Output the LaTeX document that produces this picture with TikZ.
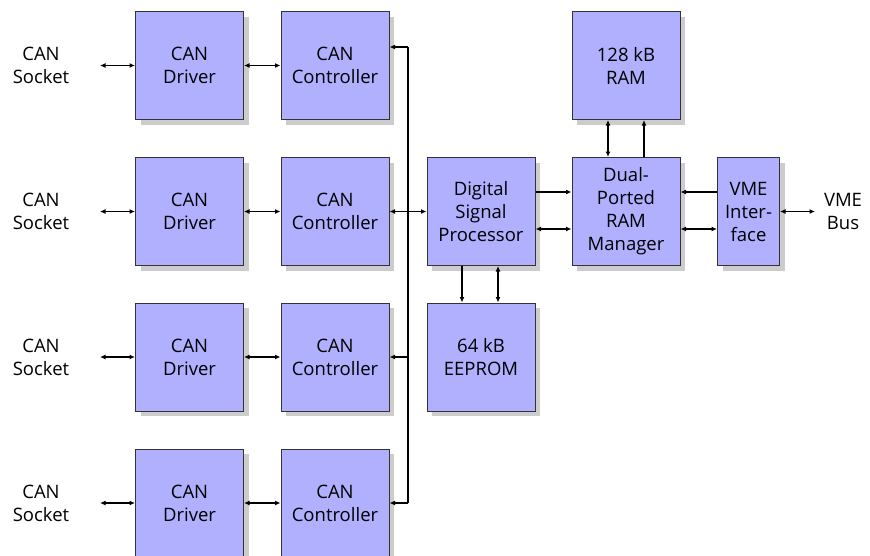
\documentclass[tikz,border=0pt]{standalone}
\usepackage{fontspec}
\setmainfont{Open Sans}
\usetikzlibrary{arrows.meta,shadows}
\definecolor{blockfill}{HTML}{B0B0FF}
\definecolor{blockshadow}{HTML}{CCCCCC}
\definecolor{blockline}{HTML}{333333}
\begin{document}
\begin{tikzpicture}[x=1pt,y=-1pt,
  font=\fontsize{18.5}{23}\selectfont,
  block/.style={draw=blockline,line width=1pt,fill=blockfill,
    minimum width=108pt,minimum height=108pt,inner sep=0pt,align=center,
    drop shadow={shadow xshift=5pt,shadow yshift=-5pt,fill=blockshadow,opacity=1}},
  narrow/.style={block,minimum width=62pt},
  label/.style={align=center,inner sep=0pt},
  link/.style={line width=1.1pt,{Latex[length=5.5pt,width=5pt]}-{Latex[length=5.5pt,width=5pt]}},
  onearrow/.style={line width=1.1pt,-{Latex[length=5.5pt,width=5pt]}},
  wire/.style={line width=1.1pt}]
\useasboundingbox (0,0) rectangle (870,555);

% CAN channels: socket, driver, controller
\foreach \i/\y in {1/65.5,2/211.5,3/357,4/503}{
  \node[label] (s\i) at (41,\y) {CAN\\Socket};
  \node[block] (d\i) at (189.5,\y) {CAN\\Driver};
  \node[block] (c\i) at (335,\y) {CAN\\Controller};
  \coordinate (sa\i) at (100,\y);
  \draw[link] (sa\i) -- (d\i.west);
  \draw[link] (d\i.east) -- (c\i.west);
}

% processing blocks
\node[block] (dsp) at (481,211.5) {Digital\\Signal\\Processor};
\node[block] (dpr) at (626,211.5) {Dual-\\Ported\\RAM\\Manager};
\node[block] (ram) at (626,65.5) {128 kB\\RAM};
\node[block] (eep) at (481,357) {64 kB\\EEPROM};
\node[narrow] (vme) at (748.5,211.5) {VME\\Inter-\\face};
\node[label] (bus) at (843,211.5) {VME\\Bus};

% shared controller bus
\coordinate (bx) at (408,0);
\coordinate (b1) at ([yshift=18.5pt]c1.east -| bx);
\coordinate (b4) at (c4.east -| bx);
\draw[wire] (b1) -- (b4);
\draw[onearrow] (b1) -- ([yshift=18.5pt]c1.east);
\draw[onearrow] (bx |- c3.east) -- (c3.east);
\draw[onearrow] (b4) -- (c4.east);
\draw[link] (c2.east) -- (dsp.west);

% DSP <-> dual-ported RAM manager
\draw[onearrow] ([yshift=19.5pt]dsp.east) -- ([yshift=19.5pt]dpr.west);
\draw[link] ([yshift=-17.5pt]dsp.east) -- ([yshift=-17.5pt]dpr.west);

% VME interface
\draw[onearrow] ([yshift=19.5pt]vme.west) -- ([yshift=19.5pt]dpr.east);
\draw[link] ([yshift=-17.5pt]dpr.east) -- ([yshift=-17.5pt]vme.west);
\coordinate (busend) at (815,211.5);
\draw[link] (vme.east) -- (busend);

% RAM
\draw[link] ([xshift=-18pt]ram.south) -- ([xshift=-18pt]dpr.north);
\draw[onearrow] ([xshift=18pt]dpr.north) -- ([xshift=18pt]ram.south);

% EEPROM
\draw[onearrow] ([xshift=-19pt]dsp.south) -- ([xshift=-19pt]eep.north);
\draw[link] ([xshift=17pt]dsp.south) -- ([xshift=17pt]eep.north);
\end{tikzpicture}
\end{document}
